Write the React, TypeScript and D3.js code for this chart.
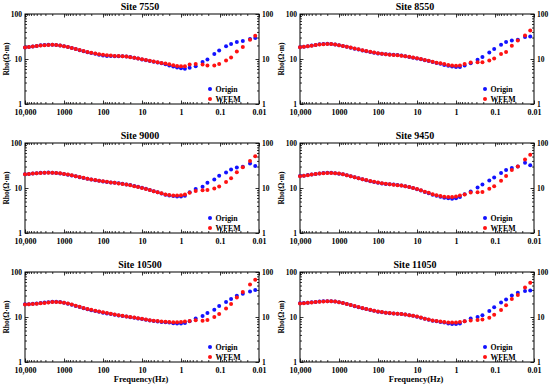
import { useEffect, useRef } from 'react'
import * as d3 from 'd3'

const W = 550
const H = 387

// frequency (Hz) of each sounding point, shared by every site
const freqs = [
  10000, 7943, 6310, 5012, 3981, 3162, 2512, 1995, 1585, 1259,
  1000, 794, 631, 501, 398, 316, 251, 200, 158, 126,
  100, 79.4, 63.1, 50.1, 39.8, 31.6, 25.1, 20, 15.8, 12.6,
  10, 7.94, 6.31, 5.01, 3.98, 3.16, 2.51, 2, 1.58, 1.26,
  1, 0.794,
  0.6, 0.42, 0.28, 0.21, 0.14, 0.105, 0.07, 0.052, 0.037, 0.026, 0.017, 0.0125,
]

const xTickValues = [10000, 1000, 100, 10, 1, 0.1, 0.01]
const xTickLabels = ['10,000', '1000', '100', '10', '1', '0.1', '0.01']
const yTickValues = [1, 10, 100]
const yTickLabels = ['1', '10', '100']

const sites = ['Site 7550', 'Site 8550', 'Site 9000', 'Site 9450', 'Site 10500', 'Site 11050']

const origin7550 = [
  18.0, 18.5, 19.0, 19.5, 20.1, 20.5, 20.8, 20.8, 20.5, 20.0,
  19.2, 18.4, 17.5, 16.6, 15.7, 14.9, 14.2, 13.6, 13.0, 12.5,
  12.0, 11.7, 11.6, 11.5, 11.5, 11.5, 11.4, 11.1, 10.6, 10.2,
  9.8, 9.4, 9.0, 8.7, 8.4, 8.0, 7.6, 7.2, 6.8, 6.5,
  6.2, 6.1,
  6.4, 6.9, 8.6, 9.7, 12.9, 15.5, 19.1, 21.5, 23.9, 25.1, 27.8, 29.3,
]
const wfem7550 = [
  18.0, 18.4, 18.9, 19.4, 19.9, 20.3, 20.6, 20.7, 20.5, 20.0,
  19.3, 18.5, 17.6, 16.7, 15.8, 15.0, 14.3, 13.7, 13.2, 12.8,
  12.4, 12.1, 11.9, 11.7, 11.6, 11.5, 11.3, 11.0, 10.6, 10.3,
  9.9, 9.5, 9.1, 8.8, 8.5, 8.2, 7.9, 7.6, 7.3, 7.0,
  6.9, 6.9,
  7.5, 7.7, 7.5, 7.2, 7.2, 7.7, 9.3, 10.8, 14.7, 18.5, 26.8, 32.9,
]

const origin8550 = [
  18.3, 18.7, 19.3, 19.9, 20.6, 21.2, 21.6, 21.8, 21.6, 21.0,
  20.1, 19.4, 18.6, 17.8, 17.0, 16.2, 15.5, 14.9, 14.3, 13.8,
  13.3, 13.0, 12.8, 12.6, 12.4, 12.2, 11.9, 11.5, 11.1, 10.7,
  10.3, 9.9, 9.4, 9.0, 8.6, 8.2, 7.8, 7.4, 7.1, 6.8,
  6.6, 6.6,
  7.2, 8.0, 9.6, 11.1, 14.0, 16.7, 20.8, 23.9, 25.9, 26.8, 31.0, 31.5,
]
const wfem8550 = [
  18.2, 18.6, 19.2, 19.8, 20.4, 21.0, 21.4, 21.6, 21.5, 21.0,
  20.2, 19.5, 18.7, 17.9, 17.1, 16.4, 15.7, 15.1, 14.5, 14.0,
  13.5, 13.1, 12.8, 12.5, 12.3, 12.1, 11.8, 11.5, 11.2, 10.8,
  10.4, 10.0, 9.5, 9.1, 8.7, 8.3, 8.0, 7.7, 7.4, 7.2,
  7.1, 7.2,
  7.7, 8.4, 8.5, 8.5, 9.3, 10.2, 12.9, 14.3, 19.8, 25.9, 33.4, 43.0,
]

const origin9000 = [
  20.1, 20.5, 21.0, 21.4, 21.7, 21.9, 22.0, 21.9, 21.6, 21.1,
  20.5, 19.8, 19.0, 18.2, 17.4, 16.7, 16.0, 15.4, 14.9, 14.4,
  14.0, 13.6, 13.3, 13.0, 12.7, 12.4, 12.0, 11.6, 11.1, 10.6,
  10.1, 9.6, 9.0, 8.5, 8.0, 7.5, 7.1, 6.8, 6.6, 6.5,
  6.5, 6.7,
  8.0, 9.5, 10.7, 13.0, 15.5, 18.8, 22.0, 25.8, 28.5, 29.5, 35.0, 31.0,
]
const wfem9000 = [
  20.2, 20.5, 20.9, 21.2, 21.5, 21.7, 21.8, 21.8, 21.6, 21.2,
  20.6, 19.9, 19.1, 18.3, 17.5, 16.8, 16.1, 15.5, 15.0, 14.5,
  14.1, 13.7, 13.3, 13.0, 12.6, 12.3, 11.9, 11.5, 11.0, 10.5,
  10.0, 9.5, 9.0, 8.5, 8.0, 7.6, 7.2, 7.0, 6.8, 6.8,
  6.9, 7.2,
  7.8, 8.6, 8.9, 9.0, 9.8, 10.8, 13.6, 16.4, 22.5, 29.0, 40.0, 51.0,
]

const origin9450 = [
  18.4, 18.8, 19.4, 20.0, 20.6, 21.1, 21.5, 21.7, 21.7, 21.4,
  20.8, 20.1, 19.2, 18.2, 17.3, 16.4, 15.6, 14.9, 14.2, 13.6,
  13.0, 12.6, 12.3, 12.1, 11.9, 11.7, 11.4, 11.0, 10.5, 10.0,
  9.4, 8.8, 8.2, 7.6, 7.1, 6.7, 6.4, 6.1, 5.9, 5.8,
  5.9, 6.3,
  7.3, 8.4, 10.2, 12.0, 14.6, 17.2, 21.5, 25.0, 28.0, 30.0, 36.5, 32.0,
]
const wfem9450 = [
  18.3, 18.7, 19.3, 19.9, 20.5, 21.0, 21.4, 21.6, 21.6, 21.4,
  20.9, 20.2, 19.3, 18.3, 17.4, 16.5, 15.7, 15.0, 14.3, 13.7,
  13.2, 12.8, 12.4, 12.1, 11.8, 11.5, 11.3, 11.0, 10.5, 10.0,
  9.5, 8.9, 8.3, 7.8, 7.3, 6.9, 6.6, 6.4, 6.3, 6.3,
  6.5, 6.8,
  7.2, 7.9, 8.0, 8.2, 9.6, 11.0, 14.4, 18.5, 25.0, 30.0, 43.0, 55.0,
]

const origin10500 = [
  19.1, 19.3, 19.6, 20.0, 20.4, 20.9, 21.4, 21.8, 21.8, 21.5,
  20.8, 19.8, 18.7, 17.6, 16.6, 15.7, 14.9, 14.2, 13.6, 13.0,
  12.5, 12.0, 11.6, 11.2, 10.8, 10.5, 10.2, 9.9, 9.6, 9.3,
  9.0, 8.7, 8.4, 8.1, 7.9, 7.7, 7.6, 7.5, 7.3, 7.2,
  7.2, 7.4,
  8.0, 9.3, 10.5, 12.2, 14.5, 17.5, 21.5, 25.0, 29.5, 33.0, 37.0, 40.0,
]
const wfem10500 = [
  19.0, 19.2, 19.5, 19.8, 20.2, 20.6, 21.1, 21.5, 21.6, 21.4,
  20.8, 19.9, 18.9, 17.8, 16.8, 15.9, 15.1, 14.4, 13.8, 13.2,
  12.7, 12.2, 11.8, 11.4, 11.0, 10.6, 10.3, 10.0, 9.7, 9.4,
  9.1, 8.8, 8.5, 8.3, 8.1, 7.9, 7.8, 7.7, 7.6, 7.6,
  7.7, 7.9,
  8.2, 8.5, 8.3, 8.6, 10.0, 11.6, 15.5, 19.5, 27.0, 36.0, 53.0, 67.0,
]

const origin11050 = [
  20.1, 20.4, 20.8, 21.2, 21.6, 22.0, 22.3, 22.5, 22.4, 22.0,
  21.3, 20.4, 19.4, 18.4, 17.4, 16.5, 15.7, 15.0, 14.3, 13.7,
  13.1, 12.7, 12.4, 12.1, 11.9, 11.8, 11.7, 11.4, 11.0, 10.6,
  10.1, 9.6, 9.1, 8.7, 8.3, 8.0, 7.7, 7.5, 7.2, 7.0,
  7.0, 7.2,
  8.0, 9.3, 10.0, 10.9, 13.6, 16.5, 21.0, 24.5, 30.0, 34.5, 38.0, 39.0,
]
const wfem11050 = [
  20.0, 20.3, 20.7, 21.1, 21.5, 21.8, 22.1, 22.3, 22.3, 22.0,
  21.4, 20.5, 19.5, 18.5, 17.5, 16.6, 15.8, 15.1, 14.4, 13.8,
  13.3, 12.9, 12.5, 12.2, 12.0, 11.8, 11.6, 11.3, 11.0, 10.6,
  10.2, 9.7, 9.2, 8.8, 8.4, 8.1, 7.9, 7.7, 7.5, 7.5,
  7.5, 7.7,
  8.0, 8.4, 8.6, 8.8, 9.6, 11.2, 14.3, 18.3, 25.0, 31.0, 45.0, 58.0,
]

const originSeries = [origin7550, origin8550, origin9000, origin9450, origin10500, origin11050]
const wfemSeries = [wfem7550, wfem8550, wfem9000, wfem9450, wfem10500, wfem11050]

const FONT = "'Liberation Serif', 'Times New Roman', serif"
const BLUE = '#1212ff'
const RED = '#ff1212'

export default function App() {
  const svgRef = useRef<SVGSVGElement>(null)

  useEffect(() => {
    if (!svgRef.current) return
    const svg = d3.select(svgRef.current)
    svg.selectAll('*').remove()

    const colStep = 275
    const rowTops = [14, 143, 272]
    const plotW = 234
    const plotH = 90

    sites.forEach((site, i) => {
      const col = i % 2
      const row = Math.floor(i / 2)
      const left = 25 + col * colStep
      const top = rowTops[row]
      const right = left + plotW
      const bottom = top + plotH

      const x = d3.scaleLog().domain([10000, 0.01]).range([left, right])
      const y = d3.scaleLog().domain([1, 100]).range([bottom, top])
      const g = svg.append('g')

      const styleAxis = (sel: d3.Selection<SVGGElement, unknown, null, undefined>, size: number) => {
        sel.select('.domain').remove()
        sel.selectAll('line').attr('stroke', '#000').attr('stroke-width', 0.8)
        sel.selectAll('text')
          .attr('font-family', FONT)
          .attr('font-weight', 'bold')
          .attr('font-size', size)
          .attr('fill', '#000')
      }

      // minor ticks on all four sides
      const xMinor = x.ticks().filter(v => !xTickValues.includes(v))
      const yMinor = y.ticks().filter(v => !yTickValues.includes(v))
      g.append('g').attr('transform', `translate(0,${bottom})`)
        .call(d3.axisBottom(x).tickValues(xMinor).tickSize(-2).tickFormat(() => ''))
        .call(s => styleAxis(s, 8))
      g.append('g').attr('transform', `translate(0,${top})`)
        .call(d3.axisTop(x).tickValues(xMinor).tickSize(-2).tickFormat(() => ''))
        .call(s => styleAxis(s, 8))
      g.append('g').attr('transform', `translate(${left},0)`)
        .call(d3.axisLeft(y).tickValues(yMinor).tickSize(-2).tickFormat(() => ''))
        .call(s => styleAxis(s, 8))
      g.append('g').attr('transform', `translate(${right},0)`)
        .call(d3.axisRight(y).tickValues(yMinor).tickSize(-2).tickFormat(() => ''))
        .call(s => styleAxis(s, 8))

      // major ticks + labels
      g.append('g').attr('transform', `translate(0,${bottom})`)
        .call(d3.axisBottom(x).tickValues(xTickValues).tickSize(-3.5).tickPadding(5)
          .tickFormat((_d, k) => xTickLabels[k]))
        .call(s => styleAxis(s, 8))
      g.append('g').attr('transform', `translate(0,${top})`)
        .call(d3.axisTop(x).tickValues(xTickValues).tickSize(-3.5).tickFormat(() => ''))
        .call(s => styleAxis(s, 8))
      g.append('g').attr('transform', `translate(${left},0)`)
        .call(d3.axisLeft(y).tickValues(yTickValues).tickSize(-3.5).tickPadding(3)
          .tickFormat((_d, k) => yTickLabels[k]))
        .call(s => styleAxis(s, 7.5))
      g.append('g').attr('transform', `translate(${right},0)`)
        .call(d3.axisRight(y).tickValues(yTickValues).tickSize(-3.5).tickPadding(3)
          .tickFormat((_d, k) => yTickLabels[k]))
        .call(s => styleAxis(s, 7.5))

      // frame
      g.append('rect')
        .attr('x', left).attr('y', top)
        .attr('width', plotW).attr('height', plotH)
        .attr('fill', 'none').attr('stroke', '#000').attr('stroke-width', 1)

      // points: Origin under WFEM
      const origin = originSeries[i]
      const wfem = wfemSeries[i]
      g.append('g').selectAll('circle')
        .data(freqs)
        .join('circle')
        .attr('cx', d => x(d))
        .attr('cy', (_d, k) => y(origin[k]))
        .attr('r', 2)
        .attr('fill', BLUE)
      g.append('g').selectAll('circle')
        .data(freqs)
        .join('circle')
        .attr('cx', d => x(d))
        .attr('cy', (_d, k) => y(wfem[k]))
        .attr('r', 2)
        .attr('fill', RED)

      // title
      g.append('text')
        .attr('x', (left + right) / 2 - 2)
        .attr('y', top - 4.5)
        .attr('text-anchor', 'middle')
        .attr('font-family', FONT).attr('font-weight', 'bold').attr('font-size', 10)
        .text(site)

      // y label
      g.append('text')
        .attr('transform', `translate(${left - 16},${(top + bottom) / 2}) rotate(-90)`)
        .attr('text-anchor', 'middle')
        .attr('font-family', FONT).attr('font-weight', 'bold').attr('font-size', 7.5)
        .text('Rho(Ω·m)')

      // legend
      const legend = [
        { label: 'Origin', color: BLUE, dy: 75 },
        { label: 'WFEM', color: RED, dy: 85 },
      ]
      legend.forEach(l => {
        g.append('circle')
          .attr('cx', left + 185).attr('cy', top + l.dy)
          .attr('r', 2).attr('fill', l.color)
        g.append('text')
          .attr('x', left + 190.5).attr('y', top + l.dy + 2.7)
          .attr('font-family', FONT).attr('font-weight', 'bold').attr('font-size', 7.8)
          .text(l.label)
      })

      if (row === 2) {
        g.append('text')
          .attr('x', (left + right) / 2 - 1)
          .attr('y', bottom + 19.5)
          .attr('text-anchor', 'middle')
          .attr('font-family', FONT).attr('font-weight', 'bold').attr('font-size', 8.5)
          .text('Frequency(Hz)')
      }
    })
  }, [])

  return (
    <svg
      ref={svgRef}
      width={W}
      height={H}
      style={{ position: 'absolute', left: 0, top: 0, background: '#fff' }}
    />
  )
}
